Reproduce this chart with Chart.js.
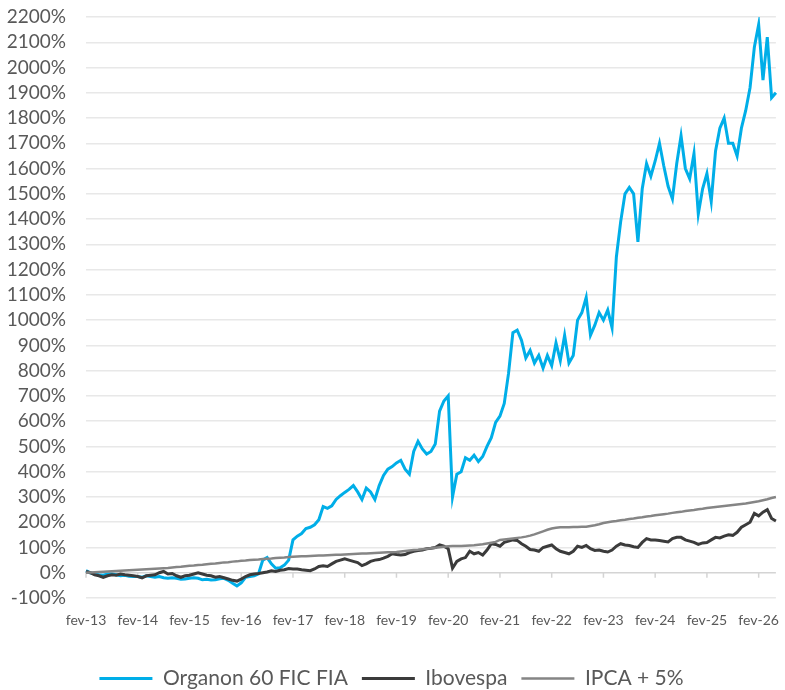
<!DOCTYPE html>
<html>
<head>
<meta charset="utf-8">
<script src="https://cdn.jsdelivr.net/npm/chart.js@4.4.1/dist/chart.umd.min.js"></script>
<style>
  html, body { margin: 0; padding: 0; background: #fff; }
  #wrap { width: 785px; height: 690px; position: relative; }
</style>
</head>
<body>
<div id="wrap"><canvas id="returnsChart"></canvas></div>
<script>
// monthly points, fev-13 .. jun-26
const monthNames = ["jan", "fev", "mar", "abr", "mai", "jun", "jul", "ago", "set", "out", "nov", "dez"];
const months = [];
for (let i = 0; i < 161; i++) {
  months.push(monthNames[(1 + i) % 12] + "-" + (13 + Math.floor((1 + i) / 12)));
}

const organon = [
  8, 0, -5, -8, -10, -5, -5, -8, -12, -10, -14, -15,
  -15, -18, -12, -15, -18, -15, -20, -22, -20, -22, -26, -25,
  -22, -20, -22, -28, -26, -29, -28, -24, -22, -30, -42, -52,
  -40, -18, -15, -12, -5, 50, 60, 35, 18, 20, 30, 50,
  130, 145, 155, 175, 180, 190, 210, 262, 255, 265, 290, 305,
  318, 330, 345, 320, 290, 335, 320, 290, 345, 385, 410, 420,
  435, 445, 410, 390, 480, 520, 490, 470, 480, 510, 640, 680,
  700, 300, 390, 400, 455, 445, 465, 440, 460, 500, 535, 595,
  620, 670, 790, 950, 960, 920, 850, 880, 830, 860, 810, 860,
  820, 910, 840, 940, 830, 860, 1000, 1030, 1090, 940, 980, 1030,
  1000, 1040, 970, 1250, 1390, 1500, 1525, 1500, 1310, 1520, 1620, 1570,
  1630, 1700, 1610, 1530, 1480, 1620, 1730, 1600, 1560, 1660, 1420, 1520,
  1580, 1470, 1670, 1760, 1800, 1700, 1700, 1650, 1760, 1830, 1920, 2080,
  2170, 1950, 2120, 1880, 1900
];

const ibovespa = [
  5, 0, -8, -12, -18, -12, -8, -10, -5, -8, -10, -12,
  -15, -20, -12, -10, -8, 0, 5, -5, -3, -12, -18, -12,
  -10, -5, 0, -5, -10, -12, -18, -15, -20, -25, -30, -33,
  -25, -15, -8, -5, -3, 0, 3, 8, 5, 10, 12, 17,
  15, 15, 12, 10, 8, 15, 25, 28, 25, 35, 45, 50,
  55, 50, 45, 40, 28, 35, 45, 50, 52, 58, 65, 75,
  72, 70, 72, 80, 85, 88, 90, 95, 97, 100, 110, 105,
  95, 18, 45, 55, 60, 85, 75, 80, 70, 90, 115, 112,
  105, 120, 125, 130, 128, 115, 105, 92, 90, 85, 100, 105,
  110, 95, 85, 80, 75, 85, 105, 100, 108, 95, 88, 90,
  85, 82, 90, 105, 115, 110, 108, 103, 100, 120, 135, 130,
  130, 128, 125, 122, 135, 140, 140, 130, 125, 120, 112, 118,
  120, 130, 140, 138, 145, 150, 148, 160, 180, 190, 200, 235,
  225, 240, 250, 215, 205
];

const ipca = [
  0, 1, 2, 3, 4, 5, 6, 7, 8, 9, 10, 11,
  12, 13, 14, 15, 16, 17, 18, 19, 21, 23, 24, 26,
  28, 29, 31, 32, 34, 36, 37, 39, 41, 42, 44, 45,
  47, 48, 50, 51, 52, 54, 55, 56, 58, 59, 60, 62,
  63, 64, 65, 65, 66, 67, 68, 68, 69, 70, 71, 71,
  72, 73, 74, 75, 76, 76, 77, 78, 79, 80, 81, 81,
  82, 84, 86, 88, 90, 91, 93, 95, 97, 99, 101, 103,
  105, 106, 106, 106, 107, 108, 109, 111, 113, 116, 119, 122,
  130, 132, 134, 136, 138, 140, 143, 147, 152, 158, 164, 170,
  175, 178, 180, 180, 180, 181, 181, 182, 182, 185, 188, 192,
  197, 200, 203, 205, 208, 210, 213, 215, 218, 220, 223, 225,
  228, 230, 232, 234, 237, 239, 241, 244, 246, 248, 251, 253,
  256, 258, 260, 262, 264, 266, 268, 270, 272, 274, 277, 280,
  283, 287, 291, 296, 300
];

const yMin = -100;
const yMax = 2200;

// small tick marks hanging off the 0% line, one per year
const zeroTicks = {
  id: "zeroTicks",
  beforeDatasetsDraw(chart) {
    const { ctx, scales } = chart;
    const y0 = scales.y.getPixelForValue(0);
    ctx.save();
    ctx.strokeStyle = "#d4d4d4";
    ctx.lineWidth = 1.5;
    for (let i = 0; i < months.length; i += 12) {
      const x = scales.x.getPixelForValue(i);
      ctx.beginPath();
      ctx.moveTo(x, y0);
      ctx.lineTo(x, y0 + 5);
      ctx.stroke();
    }
    ctx.restore();
  },
};

const ctx = document.getElementById("returnsChart").getContext("2d");

const returnsChart = new Chart(ctx, {
  type: "line",
  data: {
    labels: months,
    datasets: [
      {
        label: "Organon 60 FIC FIA",
        data: organon,
        borderColor: "#00aee8",
        backgroundColor: "#00aee8",
        borderWidth: 3,
        order: 3,
      },
      {
        label: "Ibovespa",
        data: ibovespa,
        borderColor: "#3b3b3b",
        backgroundColor: "#3b3b3b",
        borderWidth: 3,
        order: 2,
      },
      {
        label: "IPCA + 5%",
        data: ipca,
        borderColor: "#858585",
        backgroundColor: "#858585",
        borderWidth: 2.5,
        order: 1,
      },
    ],
  },
  options: {
    responsive: true,
    maintainAspectRatio: false,
    animation: false,
    elements: {
      point: { radius: 0 },
      line: { tension: 0 },
    },
    layout: {
      padding: { left: 0, right: 2, top: 17, bottom: -9 },
    },
    scales: {
      x: {
        type: "category",
        offset: false,
        grid: { display: false },
        border: { display: false },
        ticks: {
          autoSkip: false,
          maxRotation: 0,
          minRotation: 0,
          padding: 6,
          color: "#595959",
          font: { family: "Lato", size: 14 },
          callback: (val, idx) => (idx % 12 === 0 ? months[idx] : null),
        },
        afterFit: (scale) => {
          scale.height = 56;
        },
      },
      y: {
        min: yMin,
        max: yMax,
        border: { display: false },
        grid: {
          drawTicks: false,
          color: (c) => (c.tick && c.tick.value === 0 ? "#d4d4d4" : "#e8e8e8"),
          lineWidth: 1.5,
        },
        ticks: {
          stepSize: 100,
          autoSkip: false,
          padding: 20,
          color: "#595959",
          font: { family: "Lato", size: 19 },
          callback: (v) => v + "%",
        },
        afterFit: (scale) => {
          scale.width = 86;
          scale.paddingTop = 0;
          scale.paddingBottom = 0;
        },
      },
    },
    plugins: {
      legend: {
        position: "bottom",
        labels: {
          usePointStyle: true,
          pointStyle: "line",
          pointStyleWidth: 53,
          padding: 14,
          color: "#595959",
          font: { family: "Lato", size: 21 },
          sort: (a, b) => a.datasetIndex - b.datasetIndex,
        },
      },
      tooltip: { enabled: false },
    },
  },
  plugins: [zeroTicks],
});
</script>
</body>
</html>
